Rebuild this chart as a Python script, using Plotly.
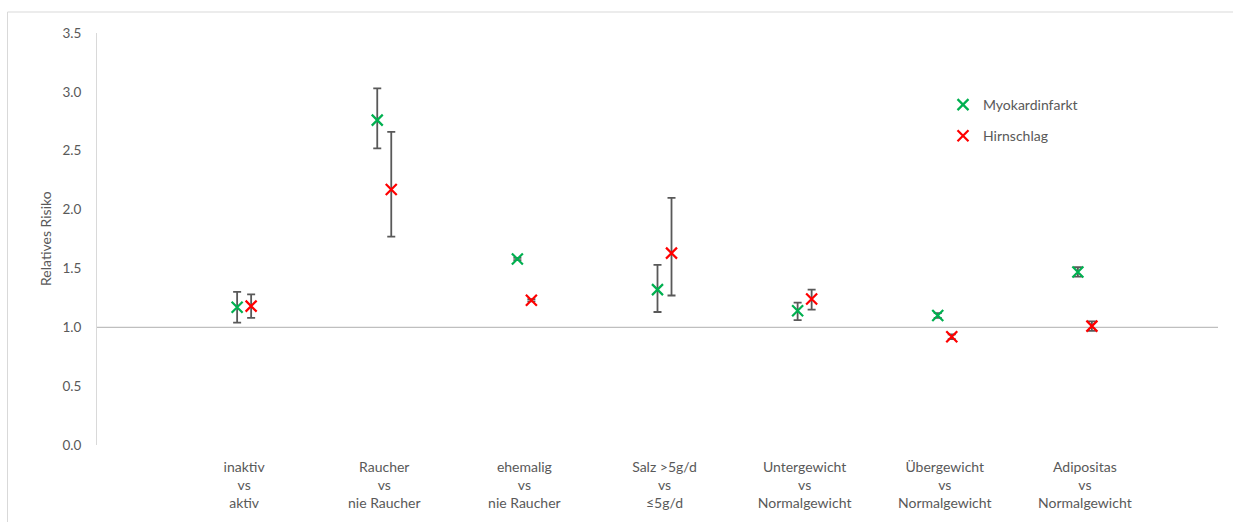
import plotly.graph_objects as go

# Risk factor comparisons (x positions 1..7 on a numeric axis)
categories = [
    "inaktiv<br>vs<br>aktiv",
    "Raucher<br>vs<br>nie Raucher",
    "ehemalig<br>vs<br>nie Raucher",
    "Salz >5g/d<br>vs<br>≤5g/d",
    "Untergewicht<br>vs<br>Normalgewicht",
    "Übergewicht<br>vs<br>Normalgewicht",
    "Adipositas<br>vs<br>Normalgewicht",
]
positions = [1, 2, 3, 4, 5, 6, 7]

# Myokardinfarkt: relative risk with confidence interval
mi_rr = [1.17, 2.76, 1.58, 1.32, 1.14, 1.10, 1.47]
mi_low = [1.04, 2.52, 1.57, 1.13, 1.06, 1.08, 1.43]
mi_high = [1.30, 3.03, 1.59, 1.53, 1.21, 1.12, 1.51]

# Hirnschlag: relative risk with confidence interval
st_rr = [1.18, 2.17, 1.23, 1.63, 1.24, 0.92, 1.01]
st_low = [1.08, 1.77, 1.22, 1.27, 1.15, 0.90, 0.97]
st_high = [1.28, 2.66, 1.24, 2.10, 1.32, 0.94, 1.05]

offset_red = 0.1
label_offset = 0.05

FONT = "Lato, Carlito, Calibri, sans-serif"
TEXT = "#595959"
ERR = "#595959"


def err_bars(rr, lo, hi):
    return dict(
        type="data",
        symmetric=False,
        array=[h - v for v, h in zip(rr, hi)],
        arrayminus=[v - l for v, l in zip(rr, lo)],
        color=ERR,
        thickness=1.8,
        width=4,
    )


fig = go.Figure()

fig.add_trace(go.Scatter(
    x=positions, y=mi_rr, mode="markers", name="Myokardinfarkt",
    legendgroup="mi",
    marker=dict(symbol="x-thin", size=11, color="#00B050",
                line=dict(color="#00B050", width=2.2)),
    error_y=err_bars(mi_rr, mi_low, mi_high),
))
fig.add_trace(go.Scatter(
    x=[p + offset_red for p in positions], y=st_rr, mode="markers", name="Hirnschlag",
    legendgroup="st",
    marker=dict(symbol="x-thin", size=11, color="#FF0000",
                line=dict(color="#FF0000", width=2.2)),
    error_y=err_bars(st_rr, st_low, st_high),
))

# Reference line at RR = 1
fig.add_shape(type="line", xref="x", yref="y", x0=0, x1=8, y0=1, y1=1,
              line=dict(color="#BFBFBF", width=1.3), layer="below")

# Outer chart border
fig.add_shape(type="rect", xref="paper", yref="paper",
              x0=(7.5 - 97) / 1121, x1=(1240 - 97) / 1121,
              y0=(445 - 530) / 412, y1=(445 - 12) / 412,
              line=dict(color="#D9D9D9", width=1), fillcolor="rgba(0,0,0,0)")

# Vertical axis title
fig.add_annotation(
    text="Relatives Risiko", xref="paper", yref="paper",
    x=(45 - 97) / 1121, y=0.5, xanchor="center", yanchor="middle",
    textangle=-90, showarrow=False,
    font=dict(family=FONT, size=14, color=TEXT),
)

fig.update_layout(
    width=1233, height=522,
    margin=dict(l=97, r=15, t=33, b=77),
    paper_bgcolor="white", plot_bgcolor="white",
    font=dict(family=FONT, size=14, color=TEXT),
    showlegend=True,
    legend=dict(
        x=(943 - 97) / 1121, y=(445 - 89) / 412, xanchor="left", yanchor="top",
        font=dict(family=FONT, size=14, color=TEXT),
        bgcolor="rgba(0,0,0,0)", tracegroupgap=10, itemwidth=30,
    ),
    xaxis=dict(
        range=[0, 8], showgrid=False, zeroline=False, showline=False,
        tickmode="array", tickvals=[p + label_offset for p in positions],
        ticktext=categories, ticks="", ticklabelstandoff=12,
        tickfont=dict(family=FONT, size=14, color=TEXT),
    ),
    yaxis=dict(
        range=[0, 3.5], showgrid=False, zeroline=False,
        showline=True, linecolor="#D9D9D9", linewidth=1,
        tickmode="array", tickvals=[0, 0.5, 1, 1.5, 2, 2.5, 3, 3.5],
        tickformat=".1f", ticks="", ticklabelstandoff=12,
        tickfont=dict(family=FONT, size=13.5, color=TEXT),
    ),
)

fig.write_html("out.html")
